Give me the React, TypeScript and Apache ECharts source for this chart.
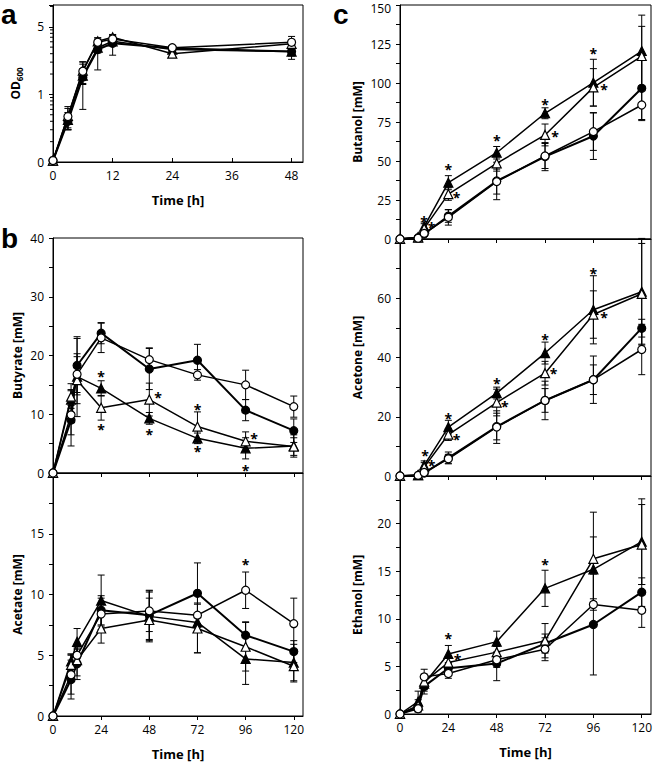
import React, { useEffect, useRef } from 'react';
import * as echarts from 'echarts';

const FONT = '"Open Sans", "Liberation Sans", sans-serif';

// ---------- Panel a: OD600 ----------
const OD_TIMES = [0, 3, 6, 9, 12, 24, 48];
const OD_FC = [0.105, 0.4, 1.8, 4.6, 5.7, 4.8, 4.3];
const OD_OC = [0.105, 0.47, 2.2, 5.9, 6.6, 4.9, 5.9];
const OD_FT = [0.105, 0.42, 1.9, 4.9, 6.1, 4.6, 4.3];
const OD_OT = [0.105, 0.48, 2.25, 6.1, 7.0, 4.0, 5.6];
const OD_SD_FC = [0, 0.1, 1.2, 2.3, 1.9, 0.5, 1.0];
const OD_SD_OC = [0, 0.15, 0.6, 0.6, 0.8, 0.4, 1.3];
const OD_SD_FT = [0, 0.12, 0.5, 0.8, 0.6, 0.5, 0.6];
const OD_SD_OT = [0, 0.18, 0.8, 0.7, 0.7, 0.4, 0.9];
const OD_TICK_VALUES = [0.1, 1, 10];
const OD_TICK_LABELS = ['0', '1', '5'];
const OD_MINOR_TICKS = [0.2, 0.3, 0.4, 0.5, 0.6, 0.7, 0.8, 0.9, 2, 3, 4, 5, 6, 7, 8, 9, 20];
const OD_X_TICKS = [0, 12, 24, 36, 48];

// ---------- Panels b, c: time course ----------
const TIMES = [0, 9, 12, 24, 48, 72, 96, 120];
const X_TICKS = [0, 24, 48, 72, 96, 120];

const BUTYRATE_FC = [0, 9.0, 18.3, 23.8, 17.7, 19.2, 10.7, 7.2];
const BUTYRATE_OC = [0, 9.9, 16.8, 23.0, 19.3, 16.7, 15.0, 11.3];
const BUTYRATE_FT = [0, 12.5, 16.4, 14.4, 9.3, 5.9, 4.2, 4.6];
const BUTYRATE_OT = [0, 13.0, 15.8, 11.1, 12.5, 7.9, 5.4, 4.5];
const BUTYRATE_SD_FC = [0, 2.5, 4.6, 1.8, 3.5, 2.7, 1.8, 2.0];
const BUTYRATE_SD_OC = [0, 5.3, 3.5, 2.5, 2.0, 0.9, 2.5, 1.8];
const BUTYRATE_SD_FT = [0, 1.5, 6.8, 1.3, 1.0, 0.9, 1.8, 1.9];
const BUTYRATE_SD_OT = [0, 1.2, 4.0, 2.1, 2.8, 2.5, 1.6, 1.5];
const BUTYRATE_STARS = [[24, 17.0], [24, 8.0], [52.4, 13.3], [48, 7.0], [72, 11.3], [72, 4.2], [100.2, 6.4], [96, 1.0]];

const ACETATE_FC = [0, 3.0, 4.3, 8.7, 8.3, 10.1, 6.65, 5.3];
const ACETATE_OC = [0, 3.4, 5.0, 8.4, 8.65, 8.3, 10.35, 7.6];
const ACETATE_FT = [0, 4.5, 6.1, 9.5, 8.2, 7.7, 4.7, 4.4];
const ACETATE_OT = [0, 4.2, 4.6, 7.2, 7.9, 7.2, 5.7, 4.1];
const ACETATE_SD_FC = [0, 1.6, 1.3, 1.2, 2.0, 2.5, 1.1, 0.9];
const ACETATE_SD_OC = [0, 1.6, 0.5, 1.3, 1.7, 1.0, 1.5, 2.1];
const ACETATE_SD_FT = [0, 0.6, 1.1, 2.1, 2.0, 2.5, 2.1, 1.5];
const ACETATE_SD_OT = [0, 0.9, 1.3, 1.2, 1.8, 2.0, 2.0, 1.3];
const ACETATE_STARS = [[96, 12.7]];

const BUTANOL_FC = [0, 0.8, 3.2, 14.7, 37.2, 52.8, 66.0, 96.6];
const BUTANOL_OC = [0, 0.5, 3.6, 13.9, 36.8, 53.2, 68.8, 85.9];
const BUTANOL_FT = [0, 1.2, 7.9, 36.1, 55.3, 80.6, 100.2, 120.5];
const BUTANOL_OT = [0, 0.9, 6.8, 28.8, 48.5, 66.7, 97.2, 117.3];
const BUTANOL_SD_FC = [0, 0.5, 1.5, 4.0, 12.0, 9.0, 15.0, 20.0];
const BUTANOL_SD_OC = [0, 0.4, 1.5, 5.0, 8.0, 8.0, 12.0, 10.0];
const BUTANOL_SD_FT = [0, 0.5, 3.0, 4.5, 4.0, 3.5, 15.0, 23.0];
const BUTANOL_SD_OT = [0, 0.5, 3.0, 4.0, 5.0, 7.0, 12.0, 19.0];
const BUTANOL_STARS = [[12, 13], [15.7, 9.6], [24, 46.4], [28.1, 28.8], [48, 65], [72, 88], [77, 67.7], [96, 121], [101.3, 97.6]];

const ACETONE_FC = [0, 0.2, 1.0, 6.1, 16.7, 25.5, 32.5, 49.9];
const ACETONE_OC = [0, 0.2, 1.2, 5.8, 16.5, 25.5, 32.5, 42.7];
const ACETONE_FT = [0, 0.3, 3.6, 16.5, 28.0, 41.5, 56.1, 62.2];
const ACETONE_OT = [0, 0.3, 3.0, 14.0, 24.8, 34.7, 54.5, 61.5];
const ACETONE_SD_FC = [0, 0.2, 0.5, 2.0, 4.5, 4.0, 5.0, 3.0];
const ACETONE_SD_OC = [0, 0.2, 0.5, 1.5, 5.5, 6.5, 8.0, 8.5];
const ACETONE_SD_FT = [0, 0.2, 1.5, 2.3, 2.0, 3.7, 11.5, 18.0];
const ACETONE_SD_OT = [0, 0.2, 1.5, 2.0, 4.5, 4.0, 8.0, 17.0];
const ACETONE_STARS = [[12.4, 8.1], [15.7, 4.5], [24, 20.4], [28.1, 13.5], [48, 32.2], [52, 24.4], [72, 47], [76.2, 35.6], [96, 69.3], [101.3, 54.4]];

const ETHANOL_FC = [0, 0.75, 2.9, 4.8, 5.3, 7.4, 9.4, 12.8];
const ETHANOL_OC = [0, 0.55, 3.9, 4.25, 5.7, 6.8, 11.5, 10.9];
const ETHANOL_FT = [0, 1.3, 3.2, 6.3, 7.6, 13.2, 15.2, 18.1];
const ETHANOL_OT = [0, 0.9, 3.4, 5.4, 6.5, 7.7, 16.3, 17.8];
const ETHANOL_SD_FC = [0, 0.3, 0.8, 0.5, 1.8, 1.0, 5.3, 1.5];
const ETHANOL_SD_OC = [0, 0.3, 0.8, 0.5, 0.8, 1.2, 0.6, 1.8];
const ETHANOL_SD_FT = [0, 1.1, 0.8, 0.9, 1.1, 1.9, 3.4, 4.5];
const ETHANOL_SD_OT = [0, 0.6, 0.8, 0.6, 0.7, 1.8, 4.9, 4.2];
const ETHANOL_STARS = [[24, 8.2], [28.6, 6.0], [72, 16.0]];

// ---------- layout ----------
const GRID_BOXES = [
  { left: 53, top: 5, width: 250, height: 157 },
  { left: 53, top: 238, width: 250, height: 235 },
  { left: 53, top: 473, width: 250, height: 243 },
  { left: 400, top: 5, width: 251, height: 234 },
  { left: 400, top: 239, width: 251, height: 237 },
  { left: 400, top: 476, width: 251, height: 238 },
];

type Panel = {
  times: number[];
  values: { fc: number[]; oc: number[]; ft: number[]; ot: number[] };
  sd: { fc: number[]; oc: number[]; ft: number[]; ot: number[] };
  stars: number[][];
  yName: string;
  yMax: number;
  yInterval?: number;
  showMaxLabel: boolean;
  xLabels: boolean;
  nameGap: number;
};

const PANELS: Panel[] = [
  {
    times: OD_TIMES,
    values: { fc: OD_FC, oc: OD_OC, ft: OD_FT, ot: OD_OT },
    sd: { fc: OD_SD_FC, oc: OD_SD_OC, ft: OD_SD_FT, ot: OD_SD_OT },
    stars: [], yName: '{b|OD}{s|600}', yMax: 21, showMaxLabel: false, xLabels: true, nameGap: 30,
  },
  {
    times: TIMES,
    values: { fc: BUTYRATE_FC, oc: BUTYRATE_OC, ft: BUTYRATE_FT, ot: BUTYRATE_OT },
    sd: { fc: BUTYRATE_SD_FC, oc: BUTYRATE_SD_OC, ft: BUTYRATE_SD_FT, ot: BUTYRATE_SD_OT },
    stars: BUTYRATE_STARS, yName: 'Butyrate [mM]', yMax: 40, yInterval: 10, showMaxLabel: true, xLabels: false, nameGap: 30,
  },
  {
    times: TIMES,
    values: { fc: ACETATE_FC, oc: ACETATE_OC, ft: ACETATE_FT, ot: ACETATE_OT },
    sd: { fc: ACETATE_SD_FC, oc: ACETATE_SD_OC, ft: ACETATE_SD_FT, ot: ACETATE_SD_OT },
    stars: ACETATE_STARS, yName: 'Acetate [mM]', yMax: 20, yInterval: 5, showMaxLabel: false, xLabels: true, nameGap: 30,
  },
  {
    times: TIMES,
    values: { fc: BUTANOL_FC, oc: BUTANOL_OC, ft: BUTANOL_FT, ot: BUTANOL_OT },
    sd: { fc: BUTANOL_SD_FC, oc: BUTANOL_SD_OC, ft: BUTANOL_SD_FT, ot: BUTANOL_SD_OT },
    stars: BUTANOL_STARS, yName: 'Butanol [mM]', yMax: 150, yInterval: 25, showMaxLabel: true, xLabels: false, nameGap: 37,
  },
  {
    times: TIMES,
    values: { fc: ACETONE_FC, oc: ACETONE_OC, ft: ACETONE_FT, ot: ACETONE_OT },
    sd: { fc: ACETONE_SD_FC, oc: ACETONE_SD_OC, ft: ACETONE_SD_FT, ot: ACETONE_SD_OT },
    stars: ACETONE_STARS, yName: 'Acetone [mM]', yMax: 80, yInterval: 20, showMaxLabel: false, xLabels: false, nameGap: 37,
  },
  {
    times: TIMES,
    values: { fc: ETHANOL_FC, oc: ETHANOL_OC, ft: ETHANOL_FT, ot: ETHANOL_OT },
    sd: { fc: ETHANOL_SD_FC, oc: ETHANOL_SD_OC, ft: ETHANOL_SD_FT, ot: ETHANOL_SD_OT },
    stars: ETHANOL_STARS, yName: 'Ethanol [mM]', yMax: 25, yInterval: 5, showMaxLabel: false, xLabels: true, nameGap: 37,
  },
];

const MARKERS: Record<string, { symbol: string; size: number; fill: string; lw: number }> = {
  fc: { symbol: 'circle', size: 8, fill: '#000', lw: 2 },
  ft: { symbol: 'triangle', size: 9, fill: '#000', lw: 1.5 },
  ot: { symbol: 'triangle', size: 9, fill: '#fff', lw: 1.5 },
  oc: { symbol: 'circle', size: 8, fill: '#fff', lw: 1.5 },
};
const KEYS = ['fc', 'ft', 'ot', 'oc'] as const;

function buildOption() {
  const grid: any[] = GRID_BOXES.map((g) => ({
    ...g, show: true, borderColor: '#000', borderWidth: 1, containLabel: false, outerBoundsMode: 'none',
  }));
  const xAxis: any[] = [];
  const yAxis: any[] = [];
  const series: any[] = [];
  const labelStyle = { color: '#000', fontSize: 12, fontFamily: FONT };
  const nameStyle = { color: '#000', fontSize: 12, fontWeight: 'bold', fontFamily: FONT };

  PANELS.forEach((p, i) => {
    const isOD = i === 0;
    const xTicks = isOD ? OD_X_TICKS : X_TICKS;
    xAxis.push({
      type: 'value', gridIndex: i, min: 0, max: isOD ? 50.3 : 124.6,
      interval: isOD ? 12 : 24,
      axisLine: { show: true, lineStyle: { color: '#000', width: 1 } },
      axisTick: { show: true, inside: isOD, length: 4, lineStyle: { color: '#000', width: 1 }, customValues: xTicks },
      axisLabel: { show: p.xLabels, ...labelStyle, margin: 7, customValues: xTicks },
      splitLine: { show: false },
      name: p.xLabels ? 'Time [h]' : '',
      nameLocation: 'middle', nameGap: 31, nameTextStyle: { ...nameStyle, fontSize: 13 },
    });
    if (isOD) {
      yAxis.push({
        type: 'log', logBase: 10, gridIndex: i, min: 0.1, max: p.yMax,
        axisLine: { show: true, lineStyle: { color: '#000', width: 1 } },
        axisTick: { show: true, length: 4, lineStyle: { color: '#000', width: 1 } },
        axisLabel: {
          ...labelStyle, margin: 9,
          formatter: (v: number) => {
            const k = OD_TICK_VALUES.findIndex((t) => Math.abs(Math.log10(v) - Math.log10(t)) < 0.01);
            return k >= 0 ? OD_TICK_LABELS[k] : '';
          },
        },
        splitLine: { show: false },
        name: p.yName, nameLocation: 'middle', nameGap: p.nameGap,
        nameTextStyle: {
          ...nameStyle,
          rich: {
            b: { fontSize: 12, fontWeight: 'bold', fontFamily: FONT, color: '#000', lineHeight: 16 },
            s: { fontSize: 8, fontWeight: 'bold', fontFamily: FONT, color: '#000', lineHeight: 16, verticalAlign: 'bottom', padding: [6, 0, 0, 0] },
          },
        },
      });
      series.push({
        type: 'custom', xAxisIndex: i, yAxisIndex: i, silent: true, z: 1,
        data: OD_MINOR_TICKS.map((v) => [0, v]),
        renderItem: (_params: any, api: any) => {
          const pt = api.coord([0, api.value(1)]);
          return { type: 'line', shape: { x1: pt[0] - 3, y1: pt[1], x2: pt[0], y2: pt[1] }, style: { stroke: '#000', lineWidth: 1 } };
        },
      });
    } else {
      const atTop = (v: number) => v === p.yMax && GRID_BOXES[i].top < 10;
      yAxis.push({
        type: 'value', gridIndex: i, min: 0, max: p.yMax, interval: p.yInterval,
        axisLine: { show: true, lineStyle: { color: '#000', width: 1 } },
        axisTick: { show: true, length: 4, lineStyle: { color: '#000', width: 1 } },
        minorTick: { show: true, splitNumber: 2, length: 4, lineStyle: { color: '#000', width: 1 } },
        axisLabel: {
          ...labelStyle, margin: 9, showMaxLabel: p.showMaxLabel, showMinLabel: true,
          formatter: (v: number) => (atTop(v) ? `{t|${v}}` : `${v}`),
          rich: { t: { ...labelStyle, padding: [6, 0, 0, 0] } },
        },
        splitLine: { show: false },
        name: p.yName, nameLocation: 'middle', nameGap: p.nameGap, nameTextStyle: nameStyle,
      });
    }

    // error bars
    const errData: number[][] = [];
    KEYS.forEach((k) => {
      p.times.forEach((t, j) => {
        const v = p.values[k][j];
        const s = p.sd[k][j];
        if (s > 0) {
          const lo = isOD ? Math.max(v - s, 0.1) : v - s;
          errData.push([t, lo, v + s]);
        }
      });
    });
    series.push({
      type: 'custom', xAxisIndex: i, yAxisIndex: i, silent: true, z: 2,
      encode: { x: 0, y: [1, 2] },
      data: errData,
      renderItem: (_params: any, api: any) => {
        const x = api.value(0);
        const top = api.coord([x, api.value(2)]);
        const bot = api.coord([x, api.value(1)]);
        const w = 3.5;
        const st = { stroke: '#000', lineWidth: 1 };
        return {
          type: 'group',
          children: [
            { type: 'line', shape: { x1: top[0], y1: top[1], x2: bot[0], y2: bot[1] }, style: st },
            { type: 'line', shape: { x1: top[0] - w, y1: top[1], x2: top[0] + w, y2: top[1] }, style: st },
            { type: 'line', shape: { x1: bot[0] - w, y1: bot[1], x2: bot[0] + w, y2: bot[1] }, style: st },
          ],
        };
      },
    });

    // lines with markers
    KEYS.forEach((k) => {
      const m = MARKERS[k];
      series.push({
        type: 'line', xAxisIndex: i, yAxisIndex: i, silent: true, z: 3,
        data: p.times.map((t, j) => [t, p.values[k][j]]),
        symbol: m.symbol, symbolSize: m.size, showSymbol: true,
        lineStyle: { color: '#000', width: m.lw },
        itemStyle: { color: m.fill, borderColor: '#000', borderWidth: 1.2 },
      });
    });

    // significance asterisks
    if (p.stars.length) {
      series.push({
        type: 'custom', xAxisIndex: i, yAxisIndex: i, silent: true, z: 4,
        data: p.stars,
        renderItem: (_params: any, api: any) => {
          const pt = api.coord([api.value(0), api.value(1)]);
          return {
            type: 'text', x: pt[0], y: pt[1] + 3,
            style: { text: '*', fill: '#000', font: `bold 14px ${FONT}`, textAlign: 'center', textVerticalAlign: 'middle' },
          };
        },
      });
    }
  });

  const letter = (text: string, x: number, y: number) => ({
    type: 'text', left: x, top: y,
    style: { text, fill: '#000', font: 'bold 28px "Liberation Sans", Arial, sans-serif' },
  });

  return {
    animation: false,
    backgroundColor: '#fff',
    grid, xAxis, yAxis, series,
    graphic: [letter('a', 1, 0), letter('b', 1, 224), letter('c', 333, 0)],
  };
}

export default function App() {
  const ref = useRef<HTMLDivElement>(null);
  useEffect(() => {
    if (!ref.current) return;
    const chart = echarts.init(ref.current, undefined, { renderer: 'svg' });
    chart.setOption(buildOption() as any);
    return () => chart.dispose();
  }, []);
  return <div ref={ref} style={{ position: 'absolute', left: 0, top: 0, width: 653, height: 764, background: '#fff' }} />;
}
